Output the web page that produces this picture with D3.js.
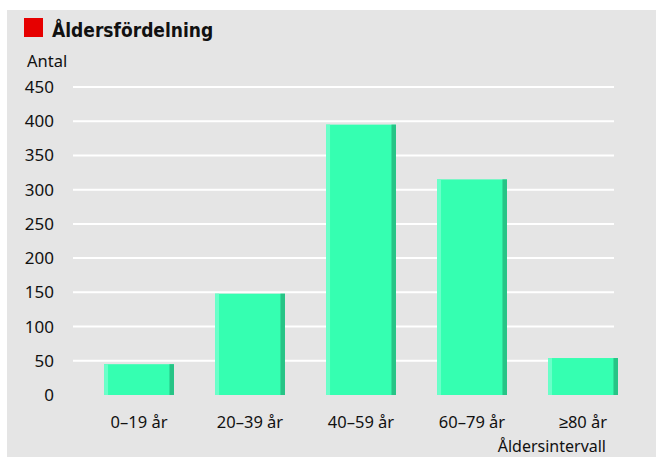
<!DOCTYPE html>
<html>
<head>
<meta charset="utf-8">
<script src="https://cdn.jsdelivr.net/npm/d3@7"></script>
<style>
  body { margin: 0; background: #fff; }
  text { font-family: "Noto Sans", sans-serif; fill: #111; }
</style>
</head>
<body>
<div id="visualization"></div>
<script>
// data
var categories = ['0–19 år', '20–39 år', '40–59 år', '60–79 år', '≥80 år'];
var values = [45, 148, 395, 315, 54];
var yTicks = [0, 50, 100, 150, 200, 250, 300, 350, 400, 450];

document.addEventListener('DOMContentLoaded', function() {
  var width = 656;
  var height = 457;

  var svg = d3.select('#visualization').append('svg')
              .attr('width', width)
              .attr('height', height);

  // gray panel
  svg.append('rect')
     .attr('x', 7).attr('y', 10)
     .attr('width', width - 7).attr('height', height - 10)
     .attr('fill', '#e5e5e5');

  // title
  svg.append('rect')
     .attr('x', 24).attr('y', 18)
     .attr('width', 19).attr('height', 19)
     .attr('fill', '#e60000');
  svg.append('text')
     .attr('x', 52).attr('y', 37)
     .style('font-family', '"DejaVu Sans Condensed", sans-serif')
     .style('font-weight', 'bold')
     .style('font-size', '19px')
     .text('Åldersfördelning');

  var y = d3.scaleLinear().domain([0, 450]).range([395, 87]);
  var x = d3.scaleBand().domain(categories)
            .range([83.5, 638.5])
            .paddingInner(0.37)
            .paddingOuter(0.185);

  // gridlines
  svg.append('g').selectAll('line')
     .data(yTicks.filter(function(d) { return d > 0; }))
     .enter().append('line')
     .attr('x1', 73).attr('x2', 614)
     .attr('y1', function(d) { return y(d); })
     .attr('y2', function(d) { return y(d); })
     .attr('stroke', '#fff')
     .attr('stroke-width', 2);

  // y axis labels
  var yAxis = d3.axisLeft(y).tickValues(yTicks).tickSize(0).tickPadding(0);
  var gy = svg.append('g').attr('transform', 'translate(54,0)').call(yAxis);
  gy.select('.domain').remove();
  gy.selectAll('text')
    .style('font-family', '"Noto Sans", sans-serif')
    .style('font-size', '17px')
    .attr('fill', '#111');

  svg.append('text')
     .attr('x', 27).attr('y', 67)
     .style('font-size', '16.5px')
     .text('Antal');

  // bars: light left edge, main body, dark right edge
  var bars = svg.append('g').selectAll('g')
    .data(values)
    .enter().append('g')
    .attr('transform', function(d, i) { return 'translate(' + x(categories[i]) + ',0)'; });

  var bw = x.bandwidth();
  bars.append('rect')
    .attr('x', 0)
    .attr('y', function(d) { return y(d); })
    .attr('width', bw)
    .attr('height', function(d) { return y(0) - y(d); })
    .attr('fill', '#35ffb1');
  bars.append('rect')
    .attr('x', 0)
    .attr('y', function(d) { return y(d); })
    .attr('width', 4)
    .attr('height', function(d) { return y(0) - y(d); })
    .attr('fill', '#6affc9');
  bars.append('rect')
    .attr('x', bw - 4.5)
    .attr('y', function(d) { return y(d); })
    .attr('width', 4.5)
    .attr('height', function(d) { return y(0) - y(d); })
    .attr('fill', '#27c486');

  // x axis labels
  var xAxis = d3.axisBottom(x).tickSize(0).tickPadding(0);
  var gx = svg.append('g').attr('transform', 'translate(0,416.5)').call(xAxis);
  gx.select('.domain').remove();
  gx.selectAll('text')
    .style('font-family', '"Noto Sans", sans-serif')
    .style('font-size', '16.5px')
    .attr('fill', '#111');

  svg.append('text')
     .attr('x', 606).attr('y', 452)
     .attr('text-anchor', 'end')
     .style('font-size', '16px')
     .text('Åldersintervall');
});
</script>
</body>
</html>
